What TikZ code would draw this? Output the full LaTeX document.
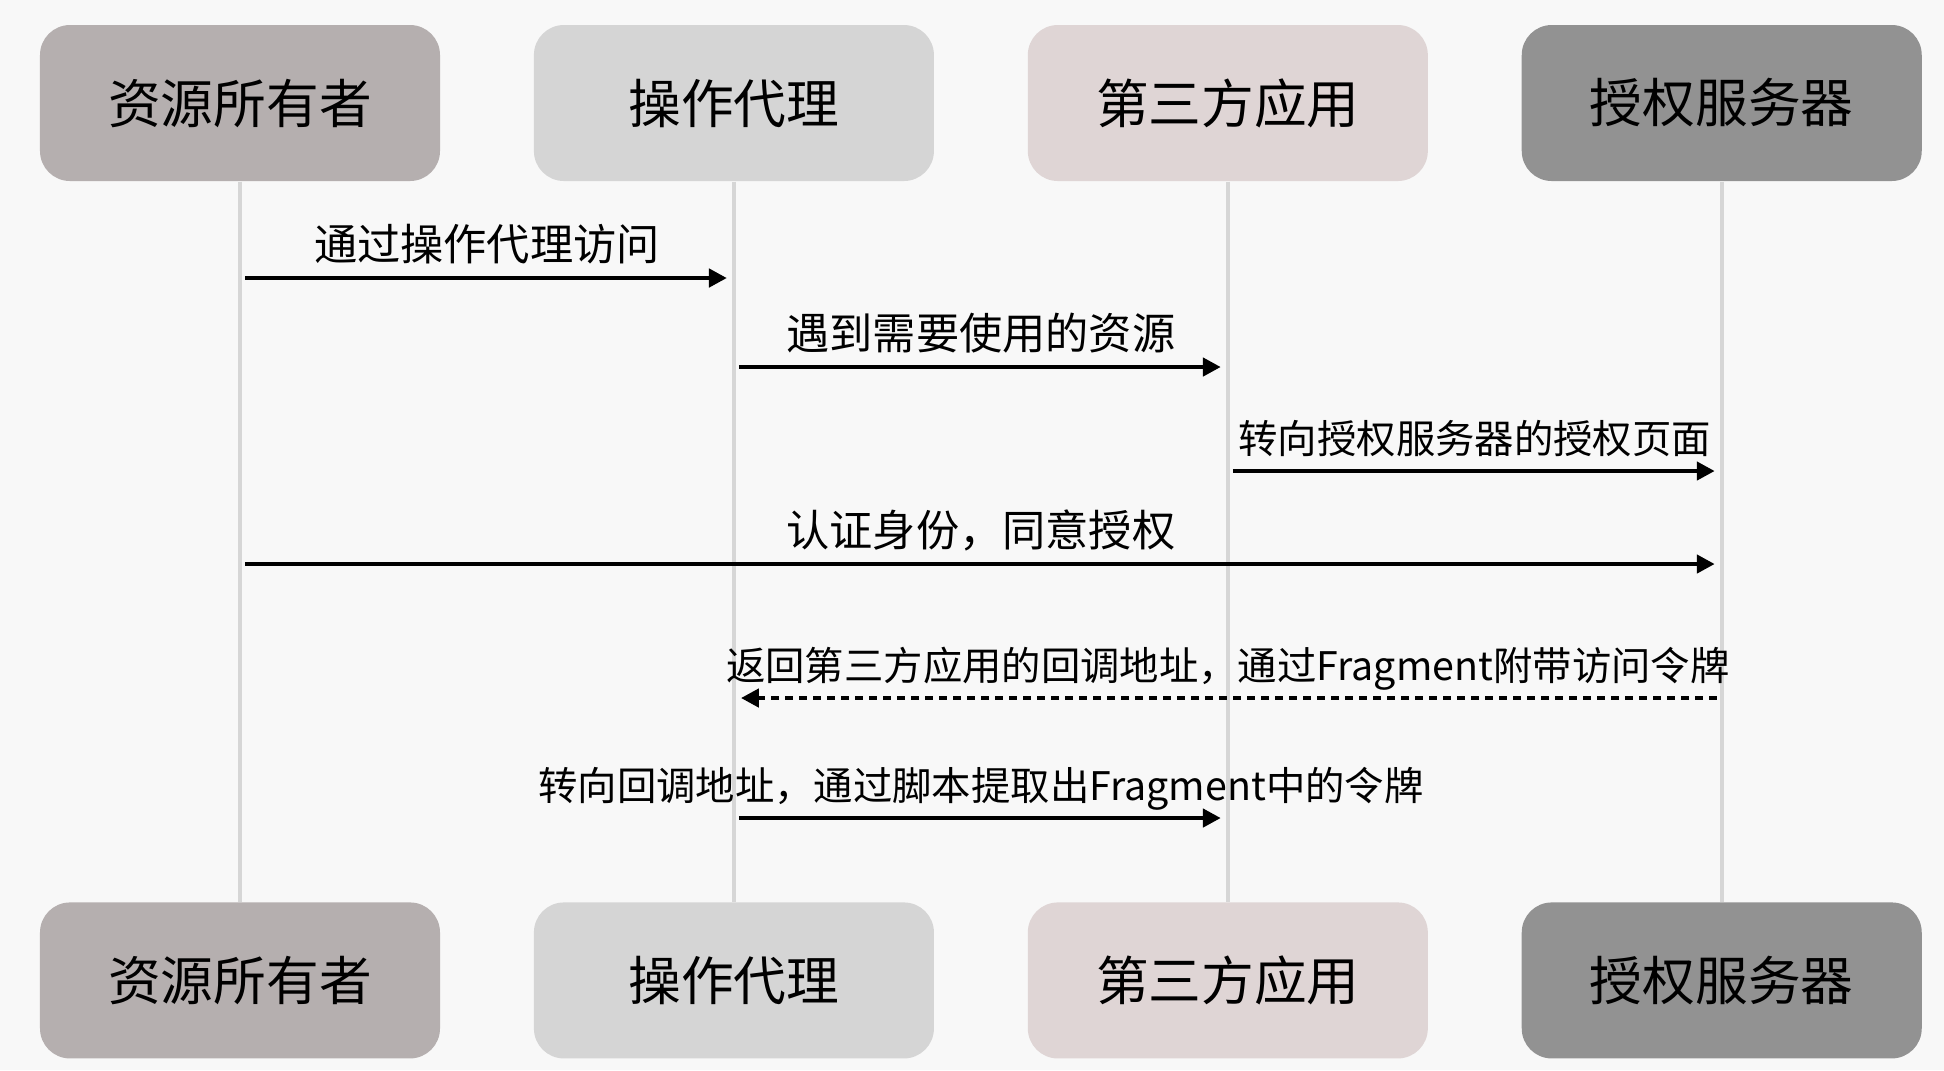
\documentclass[tikz,border=0pt]{standalone}
\usepackage{fontspec}
\setmainfont{Noto Sans CJK SC}
\usetikzlibrary{positioning,arrows.meta,calc}
\definecolor{figbg}{HTML}{F8F8F8}
\definecolor{ownfill}{HTML}{B5AFAF}
\definecolor{agentfill}{HTML}{D5D5D5}
\definecolor{appfill}{HTML}{DFD5D5}
\definecolor{authfill}{HTML}{929292}
\definecolor{lifegrey}{HTML}{D6D6D6}
\tikzset{
  actor/.style={rounded corners=3mm,minimum width=40mm,minimum height=15.6mm,align=center,
                inner sep=2pt,font=\fontsize{15}{18}\selectfont},
  life/.style={lifegrey,line width=1.1pt},
  msg/.style={-{Triangle[length=1.8mm,width=1.8mm]},line width=1.3pt,
              shorten <=0.5mm,shorten >=0.7mm},
  ret/.style={msg,dash pattern=on 0.8mm off 0.6mm},
  lbl/.style={font=\fontsize{12.3}{14}\selectfont,inner sep=1pt,
              text height=0.88em,text depth=0.12em},
  slbl/.style={lbl,font=\fontsize{11.2}{13}\selectfont},
}

\begin{document}
\begin{tikzpicture}[x=1mm,y=1mm]

\useasboundingbox[fill=figbg] (0,0) rectangle (194.4,-107);

\node[actor,fill=ownfill] (own) at (24,-10.3) {资源所有者};
\node[actor,fill=agentfill,right=9.25mm of own] (agent) {操作代理};
\node[actor,fill=appfill,right=9.25mm of agent] (app) {第三方应用};
\node[actor,fill=authfill,right=9.25mm of app] (auth) {授权服务器};

\node[actor,fill=ownfill,below=72mm of own] (own2) {资源所有者};
\node[actor,fill=agentfill,below=72mm of agent] (agent2) {操作代理};
\node[actor,fill=appfill,below=72mm of app] (app2) {第三方应用};
\node[actor,fill=authfill,below=72mm of auth] (auth2) {授权服务器};

\draw[life] (own) -- (own2);
\draw[life] (agent) -- (agent2);
\draw[life] (app) -- (app2);
\draw[life] (auth) -- (auth2);

\coordinate (r1) at (0,-27.8);
\coordinate (r2) at (0,-36.7);
\coordinate (r3) at (0,-47.1);
\coordinate (r4) at (0,-56.4);
\coordinate (r5) at (0,-69.8);
\coordinate (r6) at (0,-81.8);

\draw[msg] (own |- r1) -- node[lbl,above=0.8mm] {通过操作代理访问} (agent |- r1);
\draw[msg] (agent |- r2) -- node[lbl,above=0.8mm] {遇到需要使用的资源} (app |- r2);
\draw[msg] (app |- r3) -- node[slbl,above=0.8mm] {转向授权服务器的授权页面} (auth |- r3);
\draw[msg] (own |- r4) -- node[lbl,above=0.8mm] {认证身份，同意授权} (auth |- r4);
\draw[ret] (auth |- r5) -- node[slbl,above=0.8mm] {返回第三方应用的回调地址，通过Fragment附带访问令牌} (agent |- r5);
\draw[msg] (agent |- r6) -- node[slbl,above=0.8mm] {转向回调地址，通过脚本提取出Fragment中的令牌} (app |- r6);

\end{tikzpicture}
\end{document}
